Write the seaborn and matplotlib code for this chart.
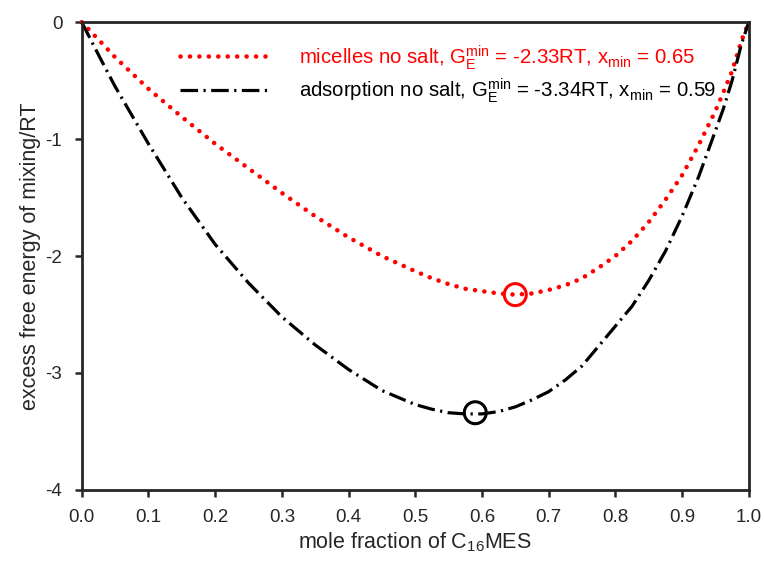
import numpy as np
import pandas as pd
import seaborn as sns
import matplotlib.pyplot as plt

# mole fraction of C16MES
x_frac = [0.0, 0.027, 0.05, 0.1, 0.15, 0.2, 0.25, 0.3, 0.35, 0.4, 0.45, 0.5,
          0.525, 0.55, 0.575, 0.6, 0.625, 0.65, 0.675, 0.7, 0.725, 0.75, 0.775,
          0.8, 0.825, 0.85, 0.875, 0.9, 0.925, 0.95, 0.962, 0.975, 0.989, 1.0]
# excess free energy of mixing / RT
micelles = [0.0, -0.16, -0.30, -0.57, -0.81, -1.04, -1.25, -1.46, -1.66, -1.84,
            -2.00, -2.13, -2.19, -2.24, -2.28, -2.30, -2.32, -2.33, -2.32, -2.29,
            -2.25, -2.19, -2.10, -2.00, -1.87, -1.71, -1.52, -1.31, -1.05, -0.76,
            -0.60, -0.42, -0.16, 0.0]
adsorption = [0.0, -0.30, -0.55, -1.04, -1.50, -1.90, -2.23, -2.52, -2.76, -2.97,
              -3.15, -3.27, -3.31, -3.34, -3.35, -3.35, -3.33, -3.29, -3.23, -3.16,
              -3.06, -2.94, -2.77, -2.60, -2.43, -2.21, -1.96, -1.66, -1.32, -0.93,
              -0.74, -0.50, -0.19, 0.0]

mic_min = (0.65, -2.33)
ads_min = (0.59, -3.34)

lab_mic = r"micelles no salt, $\mathregular{G_E^{min}}$ = -2.33RT, $\mathregular{x_{min}}$ = 0.65"
lab_ads = r"adsorption no salt, $\mathregular{G_E^{min}}$ = -3.34RT, $\mathregular{x_{min}}$ = 0.59"

df = pd.DataFrame({"x": x_frac, "mic": micelles, "ads": adsorption})

sns.set_style("ticks")
plt.rcParams["font.family"] = ["Liberation Sans", "DejaVu Sans"]
plt.rcParams["mathtext.fontset"] = "custom"
plt.rcParams["mathtext.rm"] = "Liberation Sans"

fig = plt.figure(figsize=(7.64, 5.69), dpi=100)
ax = fig.add_axes([0.107, 0.139, 0.873, 0.822])

sns.lineplot(data=df, x="x", y="mic", color="red", lw=3.3, ax=ax, label=lab_mic)
sns.lineplot(data=df, x="x", y="ads", color="black", lw=2.3, ax=ax, label=lab_ads)
l1, l2 = ax.lines[0], ax.lines[1]
l1.set_linestyle((0, (0.01, 2.05)))
l1.set_dash_capstyle("round")
l2.set_linestyle((0, (5.5, 1.7, 0.7, 1.7)))
for ln in ax.lines:
    ln.set_clip_on(False)

sns.scatterplot(x=[mic_min[0]], y=[mic_min[1]], s=250, facecolors="none",
                edgecolors="red", linewidth=2.2, ax=ax, zorder=5)
sns.scatterplot(x=[ads_min[0]], y=[ads_min[1]], s=250, facecolors="none",
                edgecolors="black", linewidth=2.2, ax=ax, zorder=5)

ax.set_xlim(0, 1)
ax.set_ylim(-4, 0)
ax.set_xticks(np.arange(0, 1.01, 0.1))
ax.set_xticklabels([f"{v:.1f}" for v in np.arange(0, 1.01, 0.1)])
ax.set_yticks([-4, -3, -2, -1, 0])
ax.set_yticklabels(["-4", "-3", "-2", "-1", "0"])
ax.tick_params(direction="out", length=5, width=1.8, labelsize=13.5, pad=9)
for sp in ax.spines.values():
    sp.set_linewidth(2)
    sp.set_visible(True)

ax.set_xlabel(r"mole fraction of $\mathregular{C_{16}}$MES", fontsize=15.5, labelpad=3)
ax.set_ylabel("excess free energy of mixing/RT", fontsize=15.5, labelpad=3)

leg = ax.legend(loc="upper left", bbox_to_anchor=(0.12, 0.995), frameon=False,
                fontsize=14.7, handlelength=4.3, handletextpad=1.5,
                labelspacing=0.22, labelcolor=["red", "black"])

fig.savefig("out.png", dpi=100)
